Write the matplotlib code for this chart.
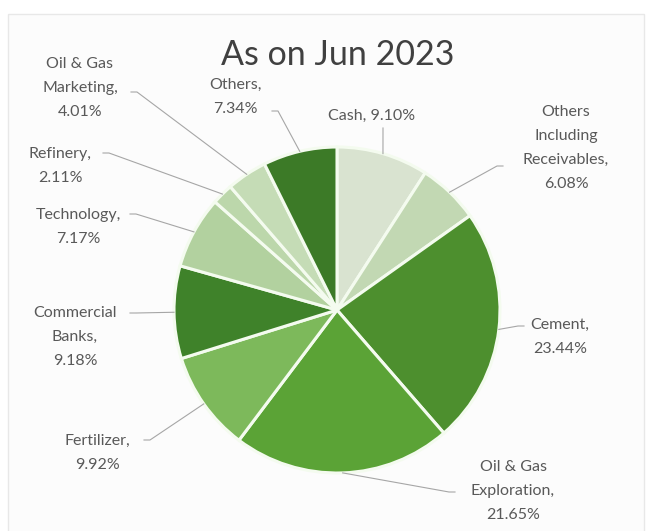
import matplotlib
matplotlib.use("Agg")
import matplotlib.pyplot as plt
from matplotlib.patches import Rectangle
import numpy as np

title = "As on Jun 2023"
categories = ["Cash", "Others Including Receivables", "Cement", "Oil & Gas Exploration",
              "Fertilizer", "Commercial Banks", "Technology", "Refinery",
              "Oil & Gas Marketing", "Others"]
values = [9.10, 6.08, 23.44, 21.65, 9.92, 9.18, 7.17, 2.11, 4.01, 7.34]
label_texts = ["Cash, 9.10%", "Others\nIncluding\nReceivables,\n6.08%", "Cement,\n23.44%",
               "Oil & Gas\nExploration,\n21.65%", "Fertilizer,\n9.92%",
               "Commercial\nBanks,\n9.18%", "Technology,\n7.17%", "Refinery,\n2.11%",
               "Oil & Gas\nMarketing,\n4.01%", "Others,\n7.34%"]
colors = ["#d9e3d0", "#c2d8b3", "#4d8f2e", "#5ba336", "#7db95b", "#3f822a",
          "#b2d19f", "#bcd7ab", "#c5dcb6", "#3c7a27"]

W, H = 658, 531
fig = plt.figure(figsize=(W / 100, H / 100), dpi=100)
ax = fig.add_axes([0, 0, 1, 1])
fig.patch.set_facecolor("white")


def Y(y):
    return H - y


ax.add_patch(Rectangle((8, Y(534)), 636, 520, facecolor="#fcfcfc",
                       edgecolor="#e8e8e8", lw=1, zorder=0))

cx, cy, r = 337, 310, 163
wedges, _ = ax.pie(values, colors=colors, startangle=90, counterclock=False,
                   center=(cx, Y(cy)), radius=r, frame=True,
                   wedgeprops=dict(edgecolor="#f4fbef", linewidth=2.2))
ax.set_xlim(0, W)
ax.set_ylim(0, H)
ax.set_aspect("auto")
ax.axis("off")

# label centres (layout) and leader line start points, in pixel coords (y down)
label_pos = [(372, 116), (566, 148), (560, 337), (513, 491), (97, 453),
             (75, 337), (78, 227), (60, 166), (80, 88), (235, 97)]
leader_start = [(383, 128), (503, 166), (524, 326), (455, 492), (144, 440),
                (130, 313), (130, 214), (103, 153), (131, 92), (272, 111)]

cum = np.cumsum([0] + values[:-1])
total = sum(values)
txtcolor = "#595959"
for i, v in enumerate(values):
    mid = (cum[i] + v / 2) / total * 360.0
    ex = cx + r * np.sin(np.radians(mid))
    ey = cy - r * np.cos(np.radians(mid))
    sx, sy = leader_start[i]
    if i == 0:
        xs, ys = [sx, ex], [sy, ey]
    else:
        xs = [sx, sx + (6 if sx < ex else -6), ex]
        ys = [sy, sy, ey]
    ax.plot(xs, [Y(y) for y in ys], color="#a6a6a6", lw=0.8, zorder=1)
    lx, ly = label_pos[i]
    ax.text(lx, Y(ly), label_texts[i], ha="center", va="center", fontsize=11.5,
            family="Lato", color=txtcolor, linespacing=1.9, zorder=3)

ax.text(338, Y(55), title, ha="center", va="center", fontsize=24.5, family="Lato",
        color="#404040", zorder=3)

fig.savefig("out.png", dpi=100)
